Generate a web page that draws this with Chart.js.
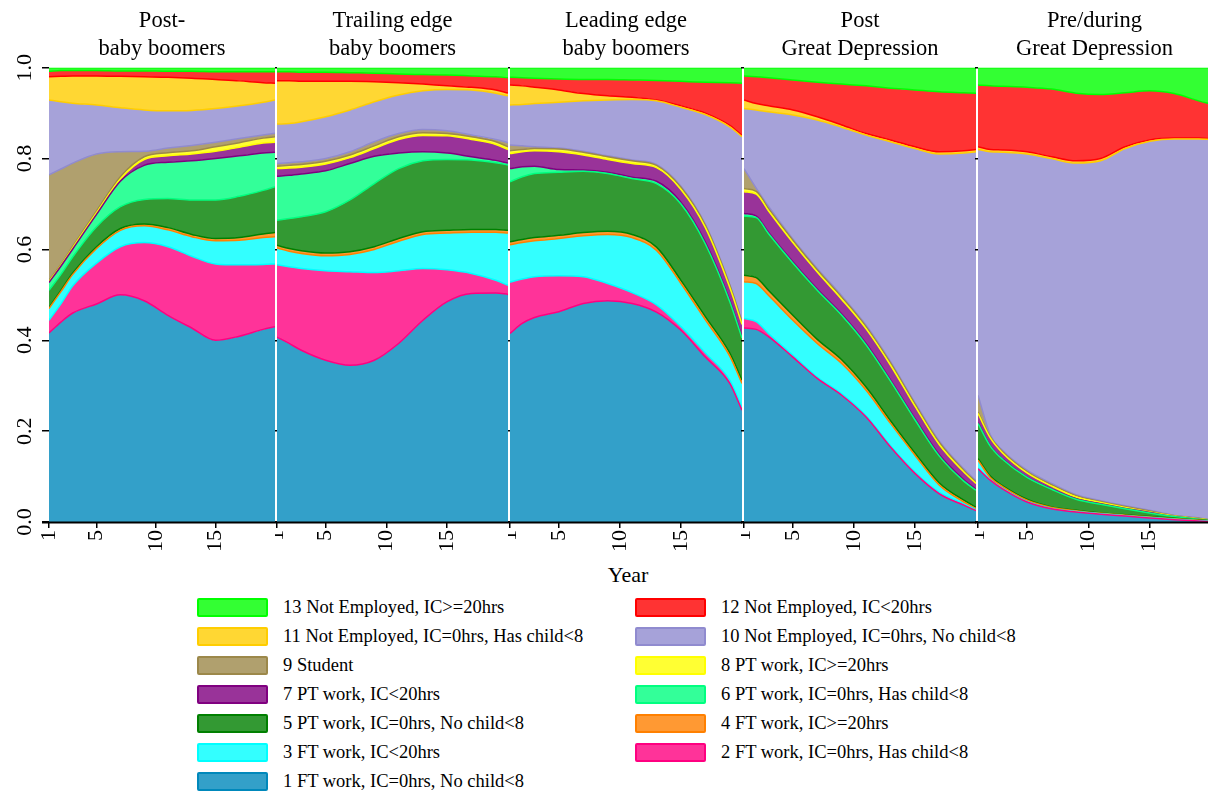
<!DOCTYPE html>
<html>
<head>
<meta charset="utf-8">
<title>Activity state shares by cohort</title>
<script src="https://cdn.jsdelivr.net/npm/chart.js@4.4.1/dist/chart.umd.min.js"></script>
<style>
  body {
    margin: 0;
    width: 1208px;
    height: 794px;
    overflow: hidden;
    background: #fff;
    position: relative;
    font-family: 'Liberation Serif', 'Times New Roman', serif;
    color: #000;
  }
  canvas { position: absolute; top: 0; }
  #xTitle {
    position: absolute;
    left: 528px;
    width: 200px;
    top: 562px;
    text-align: center;
    font-size: 22px;
    line-height: 26px;
  }
  .key {
    position: absolute;
    height: 19px;
    font-size: 18.5px;
    line-height: 19px;
    white-space: nowrap;
  }
  .key .swatch {
    position: absolute;
    left: 0;
    top: 0;
    width: 67px;
    height: 15px;
    border: 2px solid;
    border-radius: 2px;
  }
  .key .name { position: absolute; left: 86px; top: 0; }
</style>
</head>
<body>
<div id="xTitle">Year</div>

<script>
// Axis values
const years = [1, 2, 3, 5, 7, 9, 11, 13, 15, 17, 19, 20];
const yearTicks = [1, 5, 10, 15];
const shareTicks = [0, 0.2, 0.4, 0.6, 0.8, 1];

// States, bottom of the stack first
const seriesLabels = [
    'FT work, IC=0hrs, No child<8',
    'FT work, IC=0hrs, Has child<8',
    'FT work, IC<20hrs',
    'FT work, IC>=20hrs',
    'PT work, IC=0hrs, No child<8',
    'PT work, IC=0hrs, Has child<8',
    'PT work, IC<20hrs',
    'PT work, IC>=20hrs',
    'Student',
    'Not Employed, IC=0hrs, No child<8',
    'Not Employed, IC=0hrs, Has child<8',
    'Not Employed, IC<20hrs',
    'Not Employed, IC>=20hrs'
];

const lineColors = [
    '#0088BB', '#FF0080', '#00FFFF', '#FF8000', '#008000', '#00FF80', '#800080',
    '#FFFF00', '#9C884A', '#908BCF', '#FFCD00', '#FF0000', '#00FF00'
];

const fillColors = [
    '#33A0C9', '#FF3399', '#33FFFF', '#FF9933', '#339933', '#33FF99', '#993399',
    '#FFFF33', '#B0A06E', '#A6A2D9', '#FFD733', '#FF3333', '#33FF33'
];

const panelTitles = [
    ['Post-', 'baby boomers'],
    ['Trailing edge', 'baby boomers'],
    ['Leading edge', 'baby boomers'],
    ['Post', 'Great Depression'],
    ['Pre/during', 'Great Depression']
];

// Shares per cohort: one row per state (1..13), one value per entry of years
const postBoomers = [
    [.416, .440, .460, .480, .500, .487, .455, .427, .400, .409, .424, .430],
    [.028, .040, .060, .090, .106, .128, .151, .158, .168, .157, .143, .138],
    [.026, .027, .025, .032, .036, .037, .037, .043, .051, .054, .059, .060],
    [.002, .003, .003, .004, .004, .004, .005, .005, .005, .006, .008, .009],
    [.038, .035, .036, .044, .048, .054, .064, .076, .085, .091, .096, .101],
    [.017, .018, .017, .027, .056, .075, .080, .086, .091, .089, .082, .076],
    [.002, .002, .003, .004, .005, .013, .014, .015, .016, .019, .022, .022],
    [.003, .002, .003, .004, .005, .006, .007, .007, .010, .010, .011, .012],
    [.232, .210, .183, .125, .055, .012, .010, .012, .010, .009, .007, .008],
    [.165, .148, .132, .108, .097, .091, .082, .077, .074, .072, .072, .073],
    [.051, .056, .060, .064, .069, .073, .074, .071, .064, .055, .043, .037],
    [.012, .013, .012, .012, .012, .013, .013, .015, .017, .020, .024, .025],
    [.008, .006, .006, .006, .007, .007, .008, .008, .009, .009, .009, .009]
];

const trailingBoomers = [
    [.407, .393, .378, .356, .345, .356, .393, .444, .485, .503, .504, .501],
    [.159, .169, .180, .197, .206, .193, .160, .114, .070, .044, .028, .020],
    [.037, .034, .033, .033, .038, .051, .065, .075, .081, .091, .106, .115],
    [.006, .006, .006, .006, .006, .006, .006, .006, .006, .006, .006, .006],
    [.055, .066, .075, .091, .114, .139, .154, .156, .156, .153, .147, .144],
    [.097, .095, .094, .090, .080, .060, .034, .020, .014, .007, .005, .004],
    [.017, .016, .015, .015, .013, .017, .030, .036, .038, .038, .035, .030],
    [.005, .006, .006, .006, .006, .006, .006, .006, .005, .006, .006, .006],
    [.006, .006, .006, .006, .007, .009, .007, .007, .006, .004, .005, .009],
    [.087, .086, .088, .092, .092, .088, .085, .085, .091, .099, .102, .103],
    [.095, .094, .089, .078, .063, .044, .027, .015, .008, .006, .007, .006],
    [.020, .020, .020, .020, .019, .019, .019, .021, .024, .025, .029, .034],
    [.009, .009, .010, .010, .011, .012, .014, .015, .016, .018, .020, .022]
];

const leadingBoomers = [
    [.415, .437, .450, .463, .481, .487, .481, .462, .422, .363, .305, .246],
    [.113, .098, .090, .079, .059, .038, .024, .016, .008, .009, .007, .006],
    [.082, .080, .079, .082, .090, .108, .121, .120, .095, .073, .053, .053],
    [.007, .007, .007, .007, .007, .007, .007, .007, .007, .007, .007, .007],
    [.132, .138, .141, .139, .135, .127, .123, .140, .168, .160, .113, .093],
    [.029, .022, .016, .006, .003, .003, .003, .005, .004, .004, .003, .002],
    [.033, .033, .034, .039, .033, .028, .030, .030, .028, .032, .028, .028],
    [.006, .005, .005, .006, .006, .006, .006, .005, .005, .005, .005, .005],
    [.013, .008, .004, .002, .002, .002, .002, .002, .002, .002, .002, .002],
    [.088, .091, .095, .101, .111, .123, .133, .140, .174, .242, .347, .406],
    [.044, .041, .036, .027, .016, .009, .005, .002, .003, .003, .003, .003],
    [.017, .018, .020, .024, .031, .036, .038, .043, .054, .068, .094, .115],
    [.021, .022, .023, .025, .026, .026, .027, .028, .030, .032, .033, .034]
];

const postDepression = [
    [.427, .424, .408, .363, .316, .279, .231, .165, .107, .062, .037, .025],
    [.021, .017, .007, .004, .003, .003, .003, .003, .003, .003, .003, .002],
    [.081, .084, .084, .077, .074, .067, .056, .049, .037, .016, .004, .002],
    [.014, .013, .011, .011, .009, .008, .007, .006, .005, .005, .004, .004],
    [.130, .132, .125, .115, .108, .098, .093, .087, .073, .059, .042, .037],
    [.006, .004, .003, .003, .003, .003, .003, .003, .003, .003, .003, .002],
    [.048, .048, .047, .042, .037, .032, .032, .032, .027, .022, .017, .013],
    [.007, .006, .005, .005, .005, .005, .005, .005, .005, .005, .004, .003],
    [.044, .007, .005, .003, .003, .003, .003, .003, .003, .003, .003, .003],
    [.132, .172, .208, .273, .327, .371, .419, .484, .559, .632, .695, .724],
    [.019, .014, .013, .011, .007, .005, .003, .004, .004, .005, .005, .005],
    [.053, .059, .062, .066, .076, .090, .105, .114, .125, .132, .128, .124],
    [.018, .020, .022, .027, .032, .036, .040, .045, .049, .053, .055, .056]
];

const preDepression = [
    [.117, .092, .073, .044, .029, .022, .017, .013, .009, .005, .002, .001],
    [.002, .001, .001, .001, .001, .001, .001, .001, .001, .001, .001, .001],
    [.017, .005, .004, .003, .002, .002, .001, .001, .001, .001, .001, .000],
    [.004, .003, .002, .002, .001, .001, .001, .001, .001, .001, .001, .000],
    [.077, .066, .058, .048, .039, .024, .019, .013, .008, .004, .001, .001],
    [.002, .001, .001, .001, .001, .001, .001, .001, .001, .000, .000, .000],
    [.020, .017, .013, .009, .006, .004, .003, .002, .001, .001, .001, .001],
    [.003, .003, .003, .003, .003, .003, .002, .002, .002, .001, .001, .000],
    [.037, .004, .003, .003, .003, .002, .002, .002, .002, .001, .001, .001],
    [.541, .623, .656, .696, .715, .730, .748, .786, .812, .828, .834, .837],
    [.006, .005, .005, .005, .004, .005, .005, .004, .003, .002, .002, .002],
    [.136, .140, .140, .142, .149, .149, .141, .119, .108, .098, .082, .076],
    [.038, .040, .041, .043, .047, .056, .059, .055, .051, .057, .073, .080]
];

const panelShares = [postBoomers, trailingBoomers, leadingBoomers, postDepression, preDepression];

// Layout of the five panels (canvas left, canvas width, y axis width)
const panelBoxes = [
    { left: 0, width: 275, axis: 49 },
    { left: 275, width: 233, axis: 2 },
    { left: 508, width: 234, axis: 2 },
    { left: 741, width: 235, axis: 3 },
    { left: 975, width: 236, axis: 3 }
];

const serif = "'Liberation Serif', 'Times New Roman', serif";
Chart.defaults.font.family = serif;
Chart.defaults.color = '#000';

// Black x axis line that also crosses the gaps between panels
const axisLine = {
    id: 'axisLine',
    afterDraw(chart, args, opts) {
        const { ctx, chartArea } = chart;
        ctx.save();
        ctx.strokeStyle = '#000';
        ctx.lineWidth = 2;
        ctx.beginPath();
        ctx.moveTo(opts.from, chartArea.bottom + 0.5);
        ctx.lineTo(chart.width, chartArea.bottom + 0.5);
        ctx.stroke();
        ctx.restore();
    }
};

panelShares.forEach((shares, p) => {
    const box = panelBoxes[p];
    const canvas = document.createElement('canvas');
    canvas.width = box.width;
    canvas.height = 562;
    canvas.style.left = box.left + 'px';
    document.body.appendChild(canvas);

    new Chart(canvas, {
        type: 'line',
        data: {
            datasets: shares.map((row, i) => ({
                label: seriesLabels[i],
                data: row.map((v, j) => ({ x: years[j], y: v })),
                fill: i === 0 ? 'origin' : '-1',
                backgroundColor: fillColors[i],
                // the edge between two states takes the colour of the upper one
                borderColor: lineColors[Math.min(i + 1, lineColors.length - 1)],
                borderWidth: 1.5,
                pointRadius: 0,
                cubicInterpolationMode: 'monotone'
            }))
        },
        options: {
            responsive: false,
            animation: false,
            events: [],
            layout: { padding: 0 },
            plugins: {
                legend: { display: false },
                tooltip: { enabled: false },
                title: {
                    display: true,
                    text: panelTitles[p],
                    fullSize: false,
                    color: '#000',
                    font: { family: serif, size: 22.5, weight: 'normal', lineHeight: 1.26 },
                    padding: { top: 7, bottom: 4 }
                },
                axisLine: { from: p === 0 ? 42 : 0 }
            },
            scales: {
                x: {
                    type: 'linear',
                    min: 1,
                    max: 20,
                    afterBuildTicks: (scale) => { scale.ticks = yearTicks.map(v => ({ value: v })); },
                    afterFit: (scale) => { scale.height = 40; },
                    ticks: {
                        autoSkip: false,
                        minRotation: 90,
                        maxRotation: 90,
                        padding: 2,
                        color: '#000',
                        font: { size: 22 }
                    },
                    grid: { drawOnChartArea: false, tickLength: 6, color: '#000', lineWidth: 1.5 },
                    border: { display: false }
                },
                y: {
                    stacked: true,
                    min: 0,
                    max: 1,
                    afterBuildTicks: (scale) => { scale.ticks = shareTicks.map(v => ({ value: v })); },
                    afterFit: (scale) => { scale.width = box.axis; },
                    ticks: {
                        display: p === 0,
                        callback: (v) => v.toFixed(1),
                        minRotation: 90,
                        maxRotation: 90,
                        crossAlign: 'center',
                        padding: 3,
                        color: '#000',
                        font: { size: 22 }
                    },
                    grid: { drawOnChartArea: false, tickLength: p === 0 ? 7 : 3, color: '#000', lineWidth: 1.5 },
                    border: { display: false }
                }
            }
        },
        plugins: [axisLine]
    });
});

// Legend: two columns, odd states on the left, even on the right, top state first
for (let i = seriesLabels.length - 1; i >= 0; i--) {
    const leftColumn = i % 2 === 0;
    const row = Math.floor((seriesLabels.length - 1 - i) / 2);
    const key = document.createElement('div');
    key.className = 'key';
    key.style.left = (leftColumn ? 197 : 635) + 'px';
    key.style.top = (598 + row * 29) + 'px';

    const swatch = document.createElement('div');
    swatch.className = 'swatch';
    swatch.style.background = fillColors[i];
    swatch.style.borderColor = lineColors[i];

    const name = document.createElement('div');
    name.className = 'name';
    name.textContent = (i + 1) + ' ' + seriesLabels[i];

    key.appendChild(swatch);
    key.appendChild(name);
    document.body.appendChild(key);
}
</script>
</body>
</html>
